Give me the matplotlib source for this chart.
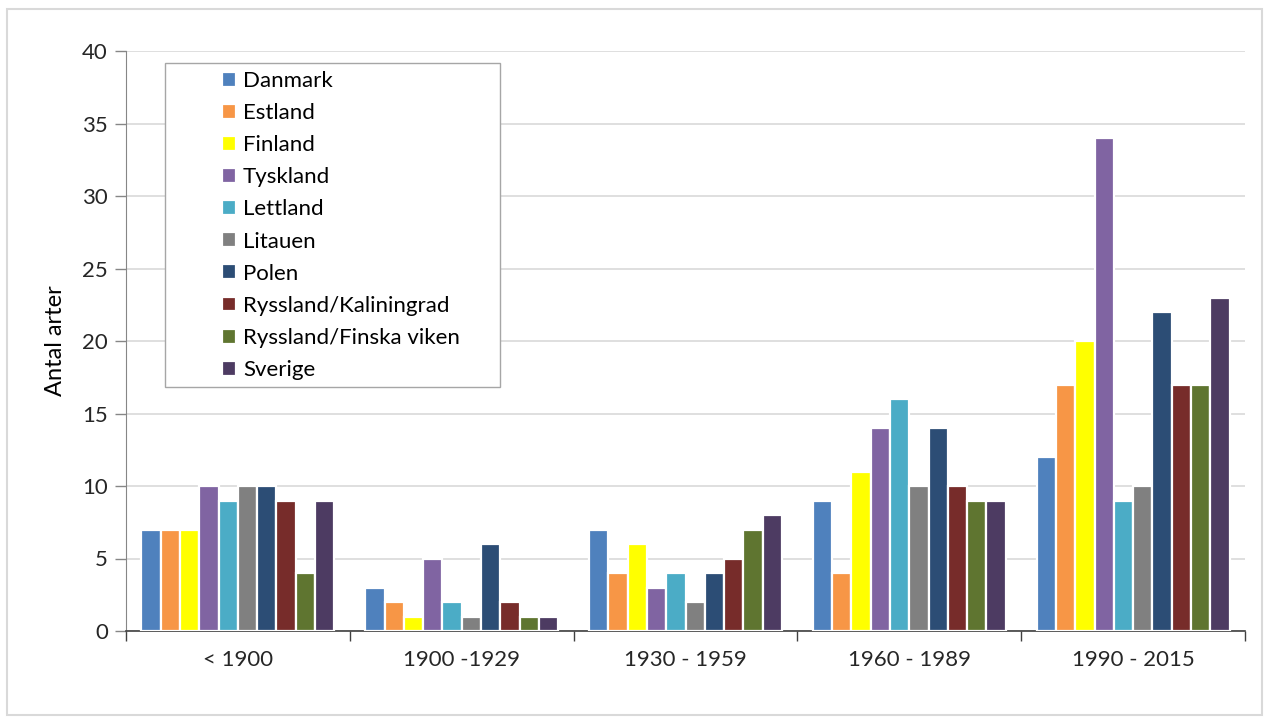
import numpy as np
import matplotlib
matplotlib.use("Agg")
import matplotlib.pyplot as plt
from matplotlib.patches import Rectangle

plt.rcParams['font.family'] = ['Lato', 'DejaVu Sans']

periods = ['< 1900', '1900 -1929', '1930 - 1959', '1960 - 1989', '1990 - 2015']
countries = ['Danmark', 'Estland', 'Finland', 'Tyskland', 'Lettland', 'Litauen',
             'Polen', 'Ryssland/Kaliningrad', 'Ryssland/Finska viken', 'Sverige']
colors = ['#4F81BD', '#F79646', '#FFFF00', '#8064A2', '#4BACC6', '#808080',
          '#2C4D75', '#772C2A', '#5F7530', '#4D3B62']

danmark = [7, 3, 7, 9, 12]
estland = [7, 2, 4, 4, 17]
finland = [7, 1, 6, 11, 20]
tyskland = [10, 5, 3, 14, 34]
lettland = [9, 2, 4, 16, 9]
litauen = [10, 1, 2, 10, 10]
polen = [10, 6, 4, 14, 22]
ryssland_kal = [9, 2, 5, 10, 17]
ryssland_fin = [4, 1, 7, 9, 17]
sverige = [9, 1, 8, 9, 23]
series = [danmark, estland, finland, tyskland, lettland, litauen,
          polen, ryssland_kal, ryssland_fin, sverige]

fig = plt.figure(figsize=(12.65, 7.18), dpi=100)
ax = fig.add_axes([126 / 1265, 1 - 631 / 718, 1119 / 1265, 580 / 718])

x = np.arange(len(periods))
step = 0.0862
for i, (vals, c, name) in enumerate(zip(series, colors, countries)):
    ax.bar(x + (i - 4.5) * step, vals, width=step, color=c, label=name,
           edgecolor='white', linewidth=1.6, zorder=3)

ax.set_xlim(-0.5, len(periods) - 0.5)
ax.set_ylim(0, 40)
ax.set_yticks(range(0, 41, 5))
ax.yaxis.grid(True, color='#D9D9D9', linewidth=1.2, zorder=0)
ax.set_axisbelow(True)

ax.set_xticks(np.arange(-0.5, len(periods), 1.0))
ax.set_xticklabels([])
ax.set_xticks(x, minor=True)
ax.set_xticklabels(periods, minor=True)
ax.tick_params(axis='x', which='major', length=7, width=1, color='#404040', direction='out')
ax.tick_params(axis='x', which='minor', length=0, pad=14, labelsize=16, labelcolor='#262626')
ax.tick_params(axis='y', length=8, width=1, color='#868686', labelsize=16,
               labelcolor='#262626', pad=5)

for s in ['top', 'right']:
    ax.spines[s].set_visible(False)
ax.spines['left'].set_color('#868686')
ax.spines['bottom'].set_color('#404040')
ax.spines['bottom'].set_linewidth(1.2)

ax.set_ylabel('Antal arter', fontsize=17, color='#000000', labelpad=12)

# legend box
ax.add_patch(Rectangle((39 / 1119, (631 - 387) / 580), 335 / 1119, 324 / 580,
                       transform=ax.transAxes, facecolor='white', edgecolor='#A6A6A6',
                       linewidth=1.0, zorder=4))
leg = ax.legend(loc='upper left', bbox_to_anchor=((222 - 126) / 1119, (631 - 71) / 580),
                frameon=False, fontsize=16, borderpad=0, borderaxespad=0,
                handlelength=0.65, handleheight=0.65, handletextpad=0.3,
                labelspacing=0.545)
leg.set_zorder(5)

fig.add_artist(Rectangle((7 / 1265, 0.004), 1255 / 1265, 1 - 9 / 718 - 0.004,
                         transform=fig.transFigure, fill=False, edgecolor='#D9D9D9',
                         linewidth=1.5))

fig.savefig('out.png', dpi=100)
